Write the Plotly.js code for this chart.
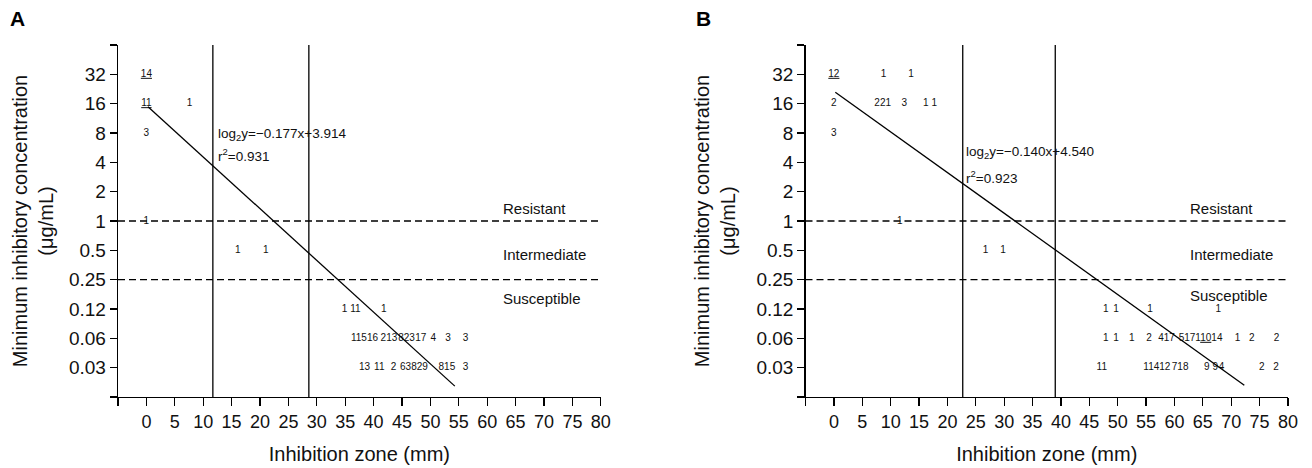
<!DOCTYPE html>
<html>
<head>
<meta charset="utf-8">
<script src="https://cdn.plot.ly/plotly-3.0.1.min.js"></script>
<style>html,body{margin:0;padding:0;background:#fff;}#chart{width:1312px;height:468px;}</style>
</head>
<body>
<div id="chart"></div>
<script>
// ---- data ----
const yTickVals = [1/32, 1/16, 1/8, 0.25, 0.5, 1, 2, 4, 8, 16, 32];
const yTickText = ['0.03', '0.06', '0.12', '0.25', '0.5', '1', '2', '4', '8', '16', '32'];
const yEndTicks = [1/64, 64];
const xTickVals = [0, 5, 10, 15, 20, 25, 30, 35, 40, 45, 50, 55, 60, 65, 70, 75, 80];
const xTickText = ['0', '5', '10', '15', '20', '25', '30', '35', '40', '45', '50', '55', '60', '65', '70', '75', '80'];
const xEndTicks = [-5];
const xRange = [-5, 80];

// Panel A: isolate counts (inhibition zone mm, MIC ug/mL, label)
const countsA_x = [0, 0, 7.6, 0, 0, 16.1, 21.0, 34.9, 36.8, 41.8, 38.4, 42.7, 45.8, 48.3, 50.5, 53.1, 56.2, 38.4, 41.0, 43.5, 47.1, 52.9, 56.2];
const countsA_y = [32, 16, 16, 8, 1, 0.5, 0.5, 0.125, 0.125, 0.125, 0.0625, 0.0625, 0.0625, 0.0625, 0.0625, 0.0625, 0.0625, 0.03125, 0.03125, 0.03125, 0.03125, 0.03125, 0.03125];
const countsA_t = ['<u>14</u>', '<u>11</u>', '1', '3', '1', '1', '1', '1', '11', '1', '11516', '213', '823', '17', '4', '3', '3', '13', '11', '2', '63829', '815', '3'];

// Panel B
const countsB_x = [0, 8.75, 13.6, 0, 8.6, 12.4, 16.2, 17.7, 0, 11.6, 26.7, 29.8, 47.9, 49.7, 55.7, 67.7, 47.9, 49.7, 52.5, 55.5, 58.6, 64.6, 71.1, 73.6, 78.0, 47.2, 56.9, 61.0, 65.7, 67.2, 68.3, 75.4, 77.9];
const countsB_y = [32, 32, 32, 16, 16, 16, 16, 16, 8, 1, 0.5, 0.5, 0.125, 0.125, 0.125, 0.125, 0.0625, 0.0625, 0.0625, 0.0625, 0.0625, 0.0625, 0.0625, 0.0625, 0.0625, 0.03125, 0.03125, 0.03125, 0.03125, 0.03125, 0.03125, 0.03125, 0.03125];
const countsB_t = ['<u>12</u>', '1', '1', '2', '221', '3', '1', '1', '3', '1', '1', '1', '1', '1', '1', '1', '1', '1', '1', '2', '417', '5171<u>10</u>14', '1', '2', '2', '11', '11412', '718', '9', '9', '4', '2', '2'];

// regression lines (end points)
const fitA_x = [0.28, 54.3];
const fitA_y = [14.9, 0.0202];
const fitB_x = [0.25, 72.3];
const fitB_y = [21.0, 0.0206];

// breakpoints
const zoneBreaksA = [11.7, 28.6];
const zoneBreaksB = [22.7, 39.0];
const micBreaks = [1, 0.25];
const categoryLabels = ['Resistant', 'Intermediate', 'Susceptible'];
const equationA = ['log<sub>2</sub>y=\u22120.177x+3.914', 'r<sup>2</sup>=0.931'];
const equationB = ['log<sub>2</sub>y=\u22120.140x+4.540', 'r<sup>2</sup>=0.923'];

// ---- chart ----
const FONT = 'Liberation Sans, Arial, Helvetica, sans-serif';
const L10 = Math.log10;

function countTrace(x, y, t, xa, ya) {
  return {x: x, y: y, text: t, mode: 'text', type: 'scatter', xaxis: xa, yaxis: ya,
    textposition: 'middle center', textfont: {family: FONT, size: 10, color: '#111'},
    hoverinfo: 'skip', showlegend: false, cliponaxis: false};
}
function fitTrace(x, y, xa, ya, dash) {
  return {x: x, y: y, mode: 'lines', type: 'scatter', xaxis: xa, yaxis: ya,
    line: {color: '#000', width: 1.3, dash: dash || 'solid'}, hoverinfo: 'skip', showlegend: false};
}

const traces = [];
// horizontal MIC breakpoint lines (dashed)
micBreaks.forEach(m => {
  traces.push(fitTrace(xRange, [m, m], 'x', 'y', '7px,4px'));
  traces.push(fitTrace(xRange, [m, m], 'x2', 'y2', '7px,4px'));
});
traces.push(countTrace(countsA_x, countsA_y, countsA_t, 'x', 'y'));
traces.push(countTrace(countsB_x, countsB_y, countsB_t, 'x2', 'y2'));
traces.push(fitTrace(fitA_x, fitA_y, 'x', 'y'));
traces.push(fitTrace(fitB_x, fitB_y, 'x2', 'y2'));

function xAxis(domain) {
  return {domain: domain, range: xRange, tickmode: 'array', tickvals: xTickVals, ticktext: xTickText,
    showgrid: false, zeroline: false, showline: true, linecolor: '#000', linewidth: 1.3,
    ticks: 'outside', ticklen: 8, tickwidth: 1.3, tickcolor: '#000',
    minor: {tickmode: 'array', tickvals: xEndTicks, ticks: 'outside', ticklen: 8, tickwidth: 1.3, tickcolor: '#000', showgrid: false},
    tickfont: {family: FONT, size: 18, color: '#111'},
    title: {text: 'Inhibition zone (mm)', font: {family: FONT, size: 20, color: '#111'}, standoff: 16},
    automargin: false, fixedrange: true};
}
function yAxis(anchor, standoff) {
  return {type: 'log', anchor: anchor, range: [L10(1/64), L10(64)], tickmode: 'array', tickvals: yTickVals, ticktext: yTickText,
    showgrid: false, zeroline: false, showline: true, linecolor: '#000', linewidth: 1.3,
    ticks: 'outside', ticklen: 7, tickwidth: 1.3, tickcolor: '#000',
    minor: {tickmode: 'array', tickvals: yEndTicks, ticks: 'outside', ticklen: 7, tickwidth: 1.3, tickcolor: '#000', showgrid: false},
    tickfont: {family: FONT, size: 19, color: '#111'},
    title: {text: 'Minimum inhibitory concentration<br>(\u03bcg/mL)', font: {family: FONT, size: 20, color: '#111'}, standoff: standoff},
    automargin: false, fixedrange: true};
}

const shapes = [];
function addBreaks(zones, xa, ya) {
  zones.forEach(z => shapes.push({type: 'line', xref: xa, yref: ya + ' domain', x0: z, x1: z, y0: 0, y1: 1,
    line: {color: '#000', width: 1.3}}));
}
addBreaks(zoneBreaksA, 'x', 'y');
addBreaks(zoneBreaksB, 'x2', 'y2');

const annotations = [];
function addLabels(xa, ya, eq, eqX, eqY1, eqY2, susShift) {
  const base = {xref: xa, yref: ya, showarrow: false, xanchor: 'left', yanchor: 'middle',
    font: {family: FONT, size: 15, color: '#111'}};
  annotations.push(Object.assign({}, base, {x: 62.4, y: L10(micBreaks[0]), yshift: 13, text: categoryLabels[0]}));
  annotations.push(Object.assign({}, base, {x: 62.4, y: L10(0.5), yshift: -4, text: categoryLabels[1]}));
  annotations.push(Object.assign({}, base, {x: 62.4, y: L10(micBreaks[1]), yshift: susShift, text: categoryLabels[2]}));
  const eb = {xref: xa, yref: ya, showarrow: false, xanchor: 'left', yanchor: 'middle',
    font: {family: FONT, size: 13.5, color: '#111'}};
  annotations.push(Object.assign({}, eb, {x: eqX, y: L10(eqY1), text: eq[0]}));
  annotations.push(Object.assign({}, eb, {x: eqX, y: L10(eqY2), text: eq[1]}));
}
addLabels('x', 'y', equationA, 12.3, 7.8, 4.8, -19);
addLabels('x2', 'y2', equationB, 23.0, 5.0, 2.82, -16);
annotations.push({xref: 'paper', yref: 'paper', x: -101/1170, y: 1 + 26/352, xanchor: 'center', yanchor: 'middle',
  text: '<b>A</b>', showarrow: false, font: {family: FONT, size: 21, color: '#000'}});
annotations.push({xref: 'paper', yref: 'paper', x: (703 - 118)/1170, y: 1 + 26/352, xanchor: 'center', yanchor: 'middle',
  text: '<b>B</b>', showarrow: false, font: {family: FONT, size: 21, color: '#000'}});

const layout = {
  width: 1312, height: 468,
  margin: {l: 118, r: 24, t: 45, b: 71},
  paper_bgcolor: '#fff', plot_bgcolor: '#fff',
  showlegend: false,
  font: {family: FONT, color: '#111'},
  xaxis: Object.assign(xAxis([0, 482.8/1170]), {anchor: 'y'}),
  yaxis: yAxis('x', 10),
  xaxis2: Object.assign(xAxis([687.5/1170, 1]), {anchor: 'y2'}),
  yaxis2: yAxis('x2', 15),
  shapes: shapes,
  annotations: annotations
};

Plotly.newPlot('chart', traces, layout, {staticPlot: true, displayModeBar: false});
</script>
</body>
</html>
